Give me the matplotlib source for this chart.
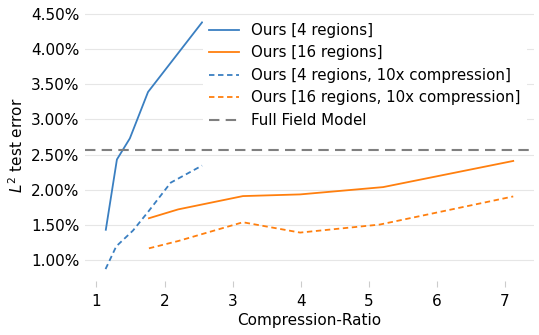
import matplotlib
matplotlib.use("Agg")
import matplotlib.pyplot as plt
from matplotlib.ticker import FuncFormatter

# Data (values in percent)
x_4 = [1.137, 1.30, 1.49, 1.757, 2.55]
y_4 = [1.43, 2.43, 2.73, 3.39, 4.38]
x_16 = [1.77, 2.2, 3.15, 3.99, 5.21, 7.12]
y_16 = [1.594, 1.72, 1.909, 1.933, 2.037, 2.409]
x_4c = [1.133, 1.29, 1.536, 1.77, 2.09, 2.55]
y_4c = [0.871, 1.194, 1.419, 1.70, 2.10, 2.343]
x_16c = [1.77, 2.2, 3.15, 3.99, 5.16, 7.12]
y_16c = [1.166, 1.27, 1.537, 1.39, 1.504, 1.904]
full_field = 2.56

labels = ["Ours [4 regions]", "Ours [16 regions]",
          "Ours [4 regions, 10x compression]",
          "Ours [16 regions, 10x compression]", "Full Field Model"]

blue = "#3a7fc1"
orange = "#ff7f0e"

fig, ax = plt.subplots(figsize=(5.39, 3.35), dpi=100)
ax.plot(x_4, y_4, color=blue, lw=1.3, label=labels[0])
ax.plot(x_16, y_16, color=orange, lw=1.3, label=labels[1])
ax.plot(x_4c, y_4c, color=blue, lw=1.3, ls=(0, (3, 2)), label=labels[2])
ax.plot(x_16c, y_16c, color=orange, lw=1.3, ls=(0, (3, 2)), label=labels[3])
ax.axhline(full_field, color="#7f7f7f", lw=1.5, ls=(0, (5, 3)), label=labels[4])

for s in ax.spines.values():
    s.set_visible(False)
ax.yaxis.grid(True, color="#e6e6e6", lw=0.8)
ax.set_axisbelow(True)
ax.tick_params(axis="y", length=0, labelsize=11, pad=4)
ax.tick_params(axis="x", length=4, color="#cccccc", labelsize=11, pad=5)
ax.yaxis.set_major_formatter(FuncFormatter(lambda v, p: f"{v:.2f}%"))
ax.set_yticks([1.0, 1.5, 2.0, 2.5, 3.0, 3.5, 4.0, 4.5])
ax.set_xticks([1, 2, 3, 4, 5, 6, 7])
ax.set_xlabel("Compression-Ratio", fontsize=11, labelpad=3)
ax.set_ylabel("$L^2$ test error", fontsize=11)

leg = ax.legend(loc="upper right", fontsize=10.8, frameon=True, framealpha=1,
                edgecolor="none", fancybox=False, handlelength=2.0,
                borderaxespad=0.45)

fig.subplots_adjust(left=0.158, right=0.99, top=0.97, bottom=0.16)
fig.savefig("out.png", dpi=100)
